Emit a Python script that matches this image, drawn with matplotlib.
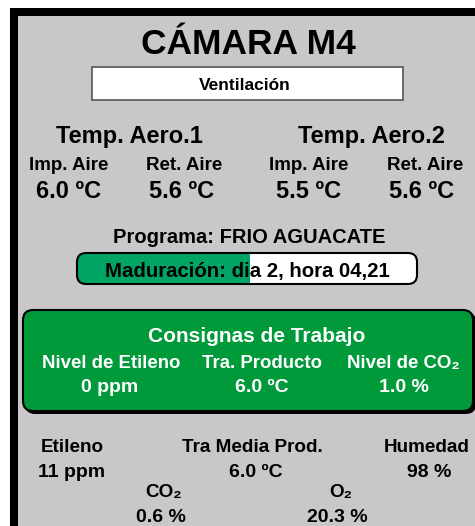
import matplotlib
matplotlib.use('Agg')
import matplotlib.pyplot as plt
from matplotlib.patches import Rectangle, FancyBboxPatch

plt.rcParams['font.family'] = ['Liberation Sans', 'DejaVu Sans']
plt.rcParams['font.weight'] = 'bold'

# values shown on the panel
camera = 'CÁMARA M4'
mode = 'Ventilación'
aero_names = ['Temp. Aero.1', 'Temp. Aero.2']
air_labels = ['Imp. Aire', 'Ret. Aire', 'Imp. Aire', 'Ret. Aire']
air_temps = [6.0, 5.6, 5.5, 5.6]
program = 'FRIO AGUACATE'
ripening_day = 2
ripening_hour = '04,21'
ripening_progress = 0.51
setpoint_labels = ['Nivel de Etileno', 'Tra. Producto', 'Nivel de CO₂']
setpoint_values = ['0 ppm', '6.0 ºC', '1.0 %']
reading_labels = ['Etileno', 'Tra Media Prod.', 'Humedad', 'CO₂', 'O₂']
reading_values = ['11 ppm', '6.0 ºC', '98 %', '0.6 %', '20.3 %']

gray = '#c8c8c8'
green = '#009a3a'
ripe_green = '#00a565'

fig = plt.figure(figsize=(4.75, 5.26), dpi=100)
fig.patch.set_facecolor('white')
ax = fig.add_axes([0, 0, 1, 1])
ax.set_xlim(0, 475)
ax.set_ylim(526, 0)
ax.axis('off')

# frame
ax.add_patch(Rectangle((10, 8), 480, 530, facecolor='black', edgecolor='none'))
ax.add_patch(Rectangle((18, 16), 470, 520, facecolor=gray, edgecolor='none'))

def txt(x, y, s, size, color='black'):
    ax.text(x, y, s, fontsize=size, color=color, ha='center', va='baseline',
            fontweight='bold')

txt(248, 53.5, camera, 25.5)

ax.add_patch(Rectangle((92, 67), 311, 33, facecolor='white', edgecolor='#555555', lw=1.2))
txt(245, 89.5, mode, 12.5)

# aero temperatures
for x, name in zip([129, 371], aero_names):
    txt(x, 142.7, name, 17)
for x, lab, t in zip([69, 184, 309, 425], air_labels, air_temps):
    txt(x, 170, lab, 13.5)
for x, t in zip([69, 182, 309, 422], air_temps):
    txt(x, 198.5, f'{t:.1f} ºC', 17)

txt(249, 243, f'Programa: {program}', 14.5)

# ripening bar
bar = FancyBboxPatch((77, 253), 340, 31, boxstyle='round,pad=0,rounding_size=9',
                     facecolor='white', edgecolor='none')
ax.add_patch(bar)
fill = Rectangle((77, 253), 340 * ripening_progress, 31, facecolor=ripe_green, edgecolor='none')
ax.add_patch(fill)
fill.set_clip_path(bar)
ax.add_patch(FancyBboxPatch((77, 253), 340, 31, boxstyle='round,pad=0,rounding_size=9',
                            facecolor='none', edgecolor='black', lw=1.5))
txt(247, 276.7, f'Maduración: dia {ripening_day}, hora {ripening_hour}', 14.7)

# setpoints box
ax.add_patch(FancyBboxPatch((25, 312), 451, 102, boxstyle='round,pad=0,rounding_size=10',
                            facecolor='black', edgecolor='none'))
ax.add_patch(FancyBboxPatch((23, 310), 450, 101, boxstyle='round,pad=0,rounding_size=10',
                            facecolor=green, edgecolor='black', lw=1.5))
txt(257, 341.7, 'Consignas de Trabajo', 15, 'white')
for x, lab in zip([111, 262.5, 403], setpoint_labels):
    txt(x, 368.3, lab, 13.4, 'white')
for x, v in zip([110, 262, 404], setpoint_values):
    txt(x, 391.7, v, 14, 'white')

# readings
for x, lab in zip([72, 252.5, 427], reading_labels[:3]):
    txt(x, 451.7, lab, 13.6)
for x, v in zip([72, 256, 429], reading_values[:3]):
    txt(x, 476.7, v, 14)
for x, lab in zip([164, 341], reading_labels[3:]):
    txt(x, 497, lab, 13.6)
for x, v in zip([161, 337], reading_values[3:]):
    txt(x, 521.7, v, 14)

fig.savefig('out.png', dpi=100, facecolor=fig.get_facecolor())
